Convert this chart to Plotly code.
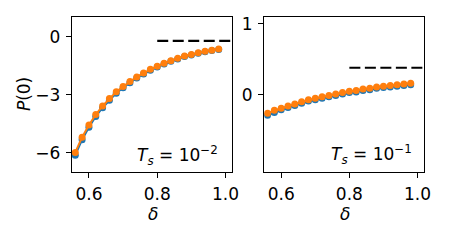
import plotly.graph_objects as go

delta = [0.56, 0.58, 0.60, 0.62, 0.64, 0.66, 0.68, 0.70, 0.72, 0.74, 0.76,
         0.78, 0.80, 0.82, 0.84, 0.86, 0.88, 0.90, 0.92, 0.94, 0.96, 0.98]

# Ts = 1e-2 panel
left_orange = [-5.98, -5.19, -4.56, -4.02, -3.58, -3.20, -2.85, -2.58, -2.32, -2.08, -1.88,
               -1.69, -1.53, -1.37, -1.24, -1.12, -1.00, -0.92, -0.83, -0.76, -0.70, -0.64]
left_blue = [-6.12, -5.32, -4.68, -4.12, -3.67, -3.28, -2.92, -2.64, -2.38, -2.13, -1.93,
             -1.73, -1.57, -1.41, -1.27, -1.15, -1.03, -0.95, -0.86, -0.78, -0.72, -0.66]
left_ref = -0.22

# Ts = 1e-1 panel
right_orange = [-0.26, -0.22, -0.19, -0.16, -0.13, -0.10, -0.07, -0.05, -0.03, -0.01, 0.01,
                0.03, 0.05, 0.06, 0.08, 0.09, 0.11, 0.12, 0.13, 0.14, 0.15, 0.16]
right_blue = [-0.29, -0.25, -0.21, -0.18, -0.15, -0.12, -0.09, -0.07, -0.05, -0.03, -0.01,
              0.01, 0.03, 0.04, 0.06, 0.07, 0.09, 0.10, 0.11, 0.12, 0.13, 0.14]
right_ref = 0.38

ref_x = [0.80, 1.02]

BLUE = "#1f77b4"
ORANGE = "#ff7f0e"
FONT = "DejaVu Sans"

fig = go.Figure()

def add_panel(xa, ya, blue, orange, ref):
    fig.add_trace(go.Scatter(x=delta, y=blue, mode="lines+markers", xaxis=xa, yaxis=ya,
                             line=dict(color=BLUE, width=2), marker=dict(color=BLUE, size=7),
                             showlegend=False))
    fig.add_trace(go.Scatter(x=delta, y=orange, mode="lines+markers", xaxis=xa, yaxis=ya,
                             line=dict(color=ORANGE, width=2), marker=dict(color=ORANGE, size=7),
                             showlegend=False))
    fig.add_trace(go.Scatter(x=ref_x, y=[ref, ref], mode="lines", xaxis=xa, yaxis=ya,
                             line=dict(color="black", width=2.2, dash="11px,4.5px"),
                             showlegend=False))

add_panel("x", "y", left_blue, left_orange, left_ref)
add_panel("x2", "y2", right_blue, right_orange, right_ref)

axis_common = dict(showline=True, linecolor="black", linewidth=1.2, mirror=True,
                   ticks="outside", ticklen=5, tickwidth=1.2, tickcolor="black",
                   showgrid=False, zeroline=False,
                   tickfont=dict(family=FONT, size=17, color="black"))

ydom = [1 - 171 / 242, 1 - 13.5 / 242]
fig.update_layout(
    width=453, height=242,
    margin=dict(l=0, r=0, t=0, b=0),
    paper_bgcolor="white", plot_bgcolor="white",
    xaxis=dict(domain=[73 / 453, 236 / 453], range=[0.55, 1.02], anchor="y",
               tickvals=[0.6, 0.8, 1.0], ticktext=["0.6", "0.8", "1.0"],
               ticklabelstandoff=1, **axis_common),
    yaxis=dict(domain=ydom, range=[-7.0, 1.0], anchor="x",
               tickvals=[0, -3, -6], ticklabelstandoff=2, **axis_common),
    xaxis2=dict(domain=[268.3 / 453, 431 / 453], range=[0.55, 1.02], anchor="y2",
                tickvals=[0.6, 0.8, 1.0], ticktext=["0.6", "0.8", "1.0"],
                ticklabelstandoff=1, **axis_common),
    yaxis2=dict(domain=ydom, range=[-1.09, 1.09], anchor="x2",
                tickvals=[0, 1], ticklabelstandoff=2, **axis_common),
)

ann_font = dict(family=FONT, size=17, color="black")
fig.add_annotation(x=0.985, y=-6.9, xref="x", yref="y", xanchor="right", yanchor="bottom",
                   text="<i>T</i><sub><i>s</i></sub> = 10<sup>−2</sup>", showarrow=False, font=ann_font)
fig.add_annotation(x=0.99, y=-1.05, xref="x2", yref="y2", xanchor="right", yanchor="bottom",
                   text="<i>T</i><sub><i>s</i></sub> = 10<sup>−1</sup>", showarrow=False, font=ann_font)
fig.add_annotation(x=25 / 453, y=1 - 92 / 242, xref="paper", yref="paper", textangle=-90,
                   xanchor="center", yanchor="middle",
                   text="<i>P</i>(0)", showarrow=False, font=ann_font)
fig.add_annotation(x=155 / 453, y=1 - 214 / 242, xref="paper", yref="paper",
                   xanchor="center", yanchor="middle",
                   text="<i>δ</i>", showarrow=False, font=ann_font)
fig.add_annotation(x=350 / 453, y=1 - 214 / 242, xref="paper", yref="paper",
                   xanchor="center", yanchor="middle",
                   text="<i>δ</i>", showarrow=False, font=ann_font)

fig.write_html("out.html", config={"displayModeBar": False},
               post_script="document.body.style.margin='0';document.body.style.padding='0';")
